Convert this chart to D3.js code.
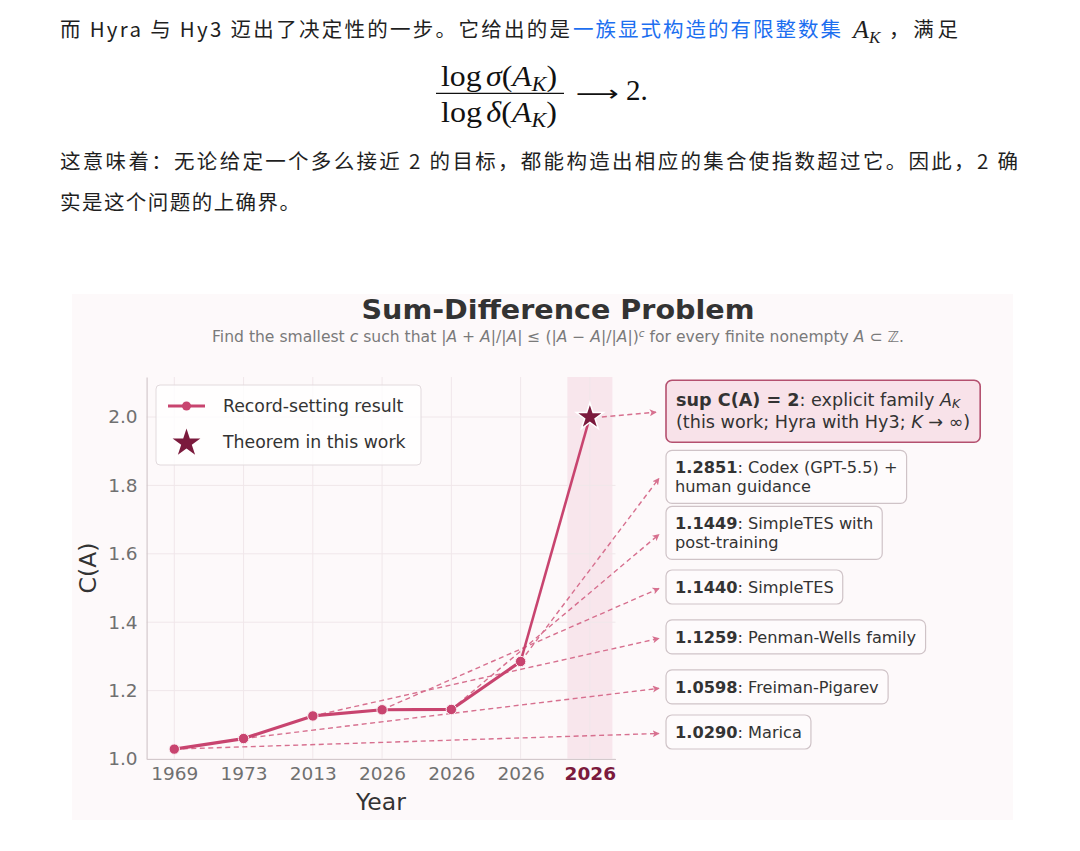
<!DOCTYPE html>
<html>
<head>
<meta charset="utf-8">
<script src="https://cdn.jsdelivr.net/npm/d3@7"></script>
<style>
  html, body { margin: 0; padding: 0; background: #ffffff; }
  svg { display: block; }
</style>
</head>
<body>
<svg id="page" width="1080" height="851"></svg>
<script>
// ---------------- data ----------------
const xLabels = ["1969", "1973", "2013", "2026", "2026", "2026", "2026"];
const recordValues = [1.0290, 1.0598, 1.1259, 1.1440, 1.1449, 1.2851];
const theoremValue = 2.0;
const recordNumbers = ["1.0290", "1.0598", "1.1259", "1.1440", "1.1449", "1.2851"];
const recordNames = [
  ["Marica"],
  ["Freiman-Pigarev"],
  ["Penman-Wells family"],
  ["SimpleTES"],
  ["SimpleTES with", "post-training"],
  ["Codex (GPT-5.5) +", "human guidance"]
];
const yTicks = [1.0, 1.2, 1.4, 1.6, 1.8, 2.0];
const legendLabels = ["Record-setting result", "Theorem in this work"];
// annotation anchor heights (in C(A) units) for the label boxes
const labelLevels = [1.079, 1.211, 1.357, 1.503, 1.661, 1.825];
const theoremLabelLevel = 2.017;

// ---------------- style ----------------
const LINE = "#c8446f";
const DASH = "#d7708f";
const STAR = "#7b1a3d";
const SANS = "'DejaVu Sans', sans-serif";
const CJK = "'Noto Sans CJK SC', 'Noto Sans', sans-serif";
const SERIF = "'Liberation Serif', 'DejaVu Serif', serif";

const svg = d3.select("#page");

// ---------------- article text ----------------
const t1 = svg.append("text").attr("y", 37).attr("font-family", CJK).attr("font-size", 20.5).attr("fill", "#1f1f1f");
t1.append("tspan").attr("x", 60).attr("textLength", 510).attr("lengthAdjust", "spacing")
  .text("而 Hyra 与 Hy3 迈出了决定性的一步。它给出的是");
t1.append("tspan").attr("x", 573).attr("textLength", 268).attr("lengthAdjust", "spacing")
  .attr("fill", "#1d6ff0").text("一族显式构造的有限整数集");
const ak1 = svg.append("text").attr("x", 853).attr("y", 38).attr("font-family", SERIF).attr("font-size", 26).attr("fill", "#1f1f1f");
ak1.append("tspan").attr("font-style", "italic").text("A");
ak1.append("tspan").attr("font-style", "italic").attr("font-size", 17).attr("dy", 5).text("K");
svg.append("text").attr("x", 889).attr("y", 37).attr("font-family", CJK).attr("font-size", 20.5)
  .attr("fill", "#1f1f1f").attr("textLength", 69).attr("lengthAdjust", "spacing").text("，满足");

// formula
function fracPart(y, sym) {
  const t = svg.append("text").attr("x", 441).attr("y", y).attr("font-family", SERIF)
    .attr("font-size", 29).attr("fill", "#111").attr("textLength", 116).attr("lengthAdjust", "spacingAndGlyphs");
  t.append("tspan").text("log");
  t.append("tspan").attr("font-style", "italic").attr("dx", 4).text(sym);
  t.append("tspan").text("(");
  t.append("tspan").attr("font-style", "italic").text("A");
  t.append("tspan").attr("font-style", "italic").attr("font-size", 20).attr("dy", 5).text("K");
  t.append("tspan").attr("dy", -5).text(")");
}
fracPart(86, "σ");
svg.append("line").attr("x1", 436).attr("x2", 564).attr("y1", 93.3).attr("y2", 93.3)
  .attr("stroke", "#111").attr("stroke-width", 1.3);
fracPart(122, "δ");
svg.append("text").attr("x", 576).attr("y", 101).attr("font-family", "'DejaVu Sans', sans-serif")
  .attr("font-size", 22).attr("fill", "#111").attr("textLength", 43).attr("lengthAdjust", "spacingAndGlyphs").text("⟶");
svg.append("text").attr("x", 626).attr("y", 100).attr("font-family", SERIF)
  .attr("font-size", 29).attr("fill", "#111").text("2.");

svg.append("text").attr("x", 60).attr("y", 169).attr("font-family", CJK).attr("font-size", 20.5)
  .attr("fill", "#1f1f1f").attr("textLength", 958).attr("lengthAdjust", "spacing")
  .text("这意味着：无论给定一个多么接近 2 的目标，都能构造出相应的集合使指数超过它。因此，2 确");
svg.append("text").attr("x", 60).attr("y", 210).attr("font-family", CJK).attr("font-size", 20.5)
  .attr("fill", "#1f1f1f").attr("textLength", 240).attr("lengthAdjust", "spacing")
  .text("实是这个问题的上确界。");

// ---------------- chart ----------------
const chart = svg.append("g");
chart.append("rect").attr("x", 72).attr("y", 294).attr("width", 941).attr("height", 526).attr("fill", "#fdf9fa");

// title & subtitle
chart.append("text").attr("x", 558).attr("y", 319).attr("text-anchor", "middle")
  .attr("font-family", SANS).attr("font-weight", "bold").attr("font-size", 27).attr("fill", "#333")
  .attr("textLength", 393).attr("lengthAdjust", "spacingAndGlyphs")
  .text("Sum-Difference Problem");
const sub = chart.append("text").attr("x", 212).attr("y", 341.5).attr("font-family", SANS)
  .attr("font-size", 15.5).attr("fill", "#7a7a7a").attr("textLength", 692).attr("lengthAdjust", "spacingAndGlyphs");
const subParts = [
  ["Find the smallest ", 0], ["c", 1], [" such that |", 0], ["A", 1], [" + ", 0], ["A", 1], ["|/|", 0], ["A", 1],
  ["| ≤ (|", 0], ["A", 1], [" − ", 0], ["A", 1], ["|/|", 0], ["A", 1], ["|)", 0]
];
subParts.forEach(([s, it]) => sub.append("tspan").attr("font-style", it ? "italic" : "normal").text(s));
sub.append("tspan").attr("font-style", "italic").attr("font-size", 10.5).attr("dy", -5).text("c");
sub.append("tspan").attr("dy", 5).text(" for every finite nonempty ");
sub.append("tspan").attr("font-style", "italic").text("A");
sub.append("tspan").text(" ⊂ ℤ.");

// scales
const x = d3.scaleLinear().domain([-0.4, 6.37]).range([146.6, 615.5]);
const y = d3.scaleLinear().domain([1.0, 2.117]).range([759, 377]);

// highlight band for the theorem column
chart.append("rect").attr("x", x(6 - 0.325)).attr("width", x(6.325) - x(5.675))
  .attr("y", y(2.117)).attr("height", y(1.0) - y(2.117)).attr("fill", "#f8e6ec");

// grid
const grid = chart.append("g").attr("stroke", "#f0e7ea").attr("stroke-width", 1);
yTicks.forEach(v => grid.append("line").attr("x1", x(-0.4)).attr("x2", x(6.37)).attr("y1", y(v)).attr("y2", y(v)));
xLabels.forEach((_, i) => grid.append("line").attr("x1", x(i)).attr("x2", x(i)).attr("y1", y(2.117)).attr("y2", y(1.0)));

// axes
const yAxis = chart.append("g").attr("transform", `translate(${x(-0.4)},0)`)
  .call(d3.axisLeft(y).tickValues(yTicks).tickFormat(d3.format(".1f")).tickSize(0).tickPadding(9));
const xAxis = chart.append("g").attr("transform", `translate(0,${y(1.0)})`)
  .call(d3.axisBottom(x).tickValues(d3.range(xLabels.length)).tickFormat(i => xLabels[i]).tickSize(0).tickPadding(8));
[yAxis, xAxis].forEach(a => {
  a.select(".domain").attr("stroke", "#d3c9cc").attr("stroke-width", 1.2);
  a.selectAll("text").attr("font-family", SANS).attr("font-size", 18.5).attr("fill", "#707070");
});
xAxis.selectAll(".tick text").filter(i => i === xLabels.length - 1)
  .attr("font-weight", "bold").attr("fill", STAR);

chart.append("text").attr("x", 381).attr("y", 802).attr("text-anchor", "middle").attr("dominant-baseline", "central")
  .attr("font-family", SANS).attr("font-size", 23.5).attr("fill", "#333").text("Year");
chart.append("text").attr("transform", "translate(88,568) rotate(-90)").attr("text-anchor", "middle")
  .attr("dominant-baseline", "central").attr("font-family", SANS).attr("font-size", 23.5).attr("fill", "#333").text("C(A)");

// arrow marker
svg.append("defs").append("marker").attr("id", "arr").attr("viewBox", "0 0 10 10")
  .attr("refX", 9).attr("refY", 5).attr("markerWidth", 7).attr("markerHeight", 7)
  .attr("markerUnits", "userSpaceOnUse").attr("orient", "auto")
  .append("path").attr("d", "M0,0 L10,5 L0,10 L2.5,5 Z").attr("fill", DASH);

const boxX = 666, arrowEndX = 659;

// dashed connectors
const conn = chart.append("g");
recordValues.forEach((v, i) => {
  conn.append("line").attr("x1", x(i)).attr("y1", y(v)).attr("x2", arrowEndX).attr("y2", y(labelLevels[i]) + 1.5)
    .attr("stroke", DASH).attr("stroke-width", 1.4).attr("stroke-dasharray", "5,3.5").attr("marker-end", "url(#arr)");
});
conn.append("line").attr("x1", x(6) + 12).attr("y1", y(theoremValue)).attr("x2", arrowEndX - 3).attr("y2", y(theoremLabelLevel) + 1)
  .attr("stroke", DASH).attr("stroke-width", 1.4).attr("stroke-dasharray", "5,3.5").attr("marker-end", "url(#arr)");

// record line (through to theorem)
const linePts = recordValues.map((v, i) => [x(i), y(v)]);
chart.append("path").attr("d", d3.line()(linePts)).attr("fill", "none").attr("stroke", LINE)
  .attr("stroke-width", 3.2).attr("stroke-linejoin", "round");
chart.append("path").attr("d", d3.line()([linePts[linePts.length - 1], [x(6), y(theoremValue)]]))
  .attr("fill", "none").attr("stroke", LINE).attr("stroke-width", 2.6);
chart.append("g").selectAll("circle").data(recordValues).join("circle")
  .attr("cx", (d, i) => x(i)).attr("cy", d => y(d)).attr("r", 5.2)
  .attr("fill", LINE).attr("stroke", "#fbeef2").attr("stroke-width", 1);

// theorem star
chart.append("path").attr("d", d3.symbol(d3.symbolStar, 230)())
  .attr("transform", `translate(${x(6)},${y(theoremValue)})`)
  .attr("fill", STAR).attr("stroke", "#ffffff").attr("stroke-width", 1.5);

// label boxes
function labelBox(level, lines, opts) {
  const g = chart.append("g");
  const cy = y(level);
  const lh = opts.lineH;
  const n = lines.length;
  const rect = g.append("rect");
  let maxW = 0;
  lines.forEach((parts, li) => {
    const t = g.append("text").attr("x", boxX + opts.pad).attr("y", cy + (li - (n - 1) / 2) * lh)
      .attr("dominant-baseline", "central").attr("font-family", SANS).attr("font-size", opts.size).attr("fill", "#333");
    parts.forEach(p => {
      const s = t.append("tspan").text(p.t);
      if (p.b) s.attr("font-weight", "bold");
      if (p.i) s.attr("font-style", "italic");
      if (p.sub) s.attr("font-size", opts.size * 0.7).attr("dy", 4);
    });
    maxW = Math.max(maxW, t.node().getBBox().width);
  });
  const h = opts.h[n - 1];
  rect.attr("x", boxX).attr("y", cy - h / 2).attr("width", maxW + opts.pad * 2).attr("height", h)
    .attr("rx", 6).attr("fill", opts.fill).attr("stroke", opts.stroke).attr("stroke-width", opts.sw);
}
const plainOpts = { size: 16.2, lineH: 19, pad: 9, h: [34, 53], fill: "#fefbfc", stroke: "#cfc3c7", sw: 1.2 };
recordValues.forEach((v, i) => {
  const lines = recordNames[i].map((s, li) => li === 0
    ? [{ t: recordNumbers[i], b: true }, { t: ": " + s }]
    : [{ t: s }]);
  labelBox(labelLevels[i], lines, plainOpts);
});
labelBox(theoremLabelLevel, [
  [{ t: "sup C(A) = 2", b: true }, { t: ": explicit family " }, { t: "A", i: true }, { t: "K", i: true, sub: true }],
  [{ t: "(this work; Hyra with Hy3; " }, { t: "K", i: true }, { t: " → ∞)" }]
], { size: 17.6, lineH: 22, pad: 10, h: [40, 62], fill: "#f8e2e9", stroke: "#b4506f", sw: 1.6 });

// legend
const lg = chart.append("g");
lg.append("rect").attr("x", 156).attr("y", 385).attr("width", 265).attr("height", 80).attr("rx", 4)
  .attr("fill", "#ffffff").attr("fill-opacity", 0.8).attr("stroke", "#e2dadd").attr("stroke-width", 1);
lg.append("line").attr("x1", 168).attr("x2", 205).attr("y1", 406).attr("y2", 406).attr("stroke", LINE).attr("stroke-width", 3);
lg.append("circle").attr("cx", 186.5).attr("cy", 406).attr("r", 4.5).attr("fill", LINE);
lg.append("path").attr("d", d3.symbol(d3.symbolStar, 240)()).attr("transform", "translate(186.5,443)").attr("fill", STAR);
legendLabels.forEach((s, i) => lg.append("text").attr("x", 223).attr("y", 406 + i * 36).attr("dominant-baseline", "central")
  .attr("font-family", SANS).attr("font-size", 17.3).attr("fill", "#333").text(s));
</script>
</body>
</html>
